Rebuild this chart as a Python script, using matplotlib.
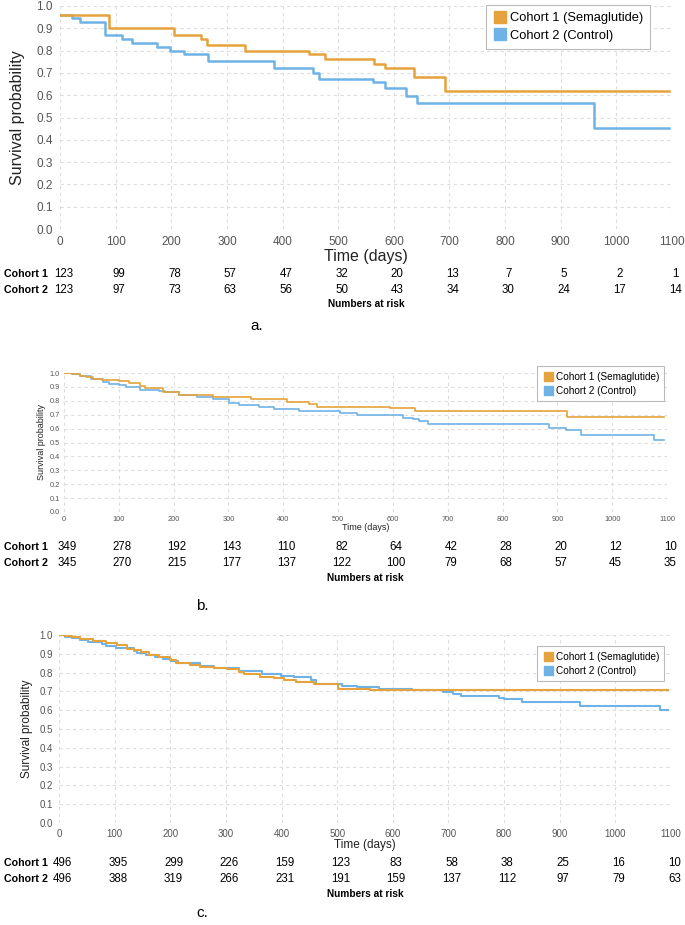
import matplotlib.pyplot as plt
from matplotlib.lines import Line2D
from matplotlib.transforms import blended_transform_factory

# --- data ---
days = [0, 100, 200, 300, 400, 500, 600, 700, 800, 900, 1000, 1100]
yticks = [0.0, 0.1, 0.2, 0.3, 0.4, 0.5, 0.6, 0.7, 0.8, 0.9, 1.0]

# panel a
a_t1 = [0, 88, 205, 254, 265, 333, 447, 477, 564, 585, 636, 692, 1095]
a_s1 = [0.96, 0.90, 0.872, 0.854, 0.827, 0.80, 0.786, 0.761, 0.738, 0.72, 0.68, 0.618, 0.618]
a_t2 = [0, 22, 36, 80, 111, 130, 174, 198, 222, 266, 384, 455, 466, 562, 584, 622, 642, 960, 1095]
a_s2 = [0.96, 0.944, 0.929, 0.872, 0.854, 0.836, 0.817, 0.80, 0.783, 0.753, 0.723, 0.70, 0.674,
        0.66, 0.633, 0.596, 0.565, 0.455, 0.455]
a_risk1 = [123, 99, 78, 57, 47, 32, 20, 13, 7, 5, 2, 1]
a_risk2 = [123, 97, 73, 63, 56, 50, 43, 34, 30, 24, 17, 14]

# panel b
b_t1 = [0, 15, 29, 40, 53, 70, 101, 119, 138, 147, 174, 180, 210, 271, 341, 362, 407, 447, 462,
        594, 640, 918, 1094]
b_s1 = [1.0, 0.99, 0.98, 0.97, 0.955, 0.95, 0.945, 0.93, 0.905, 0.895, 0.89, 0.86, 0.845, 0.825,
        0.815, 0.81, 0.79, 0.78, 0.757, 0.745, 0.727, 0.682, 0.682]
b_t2 = [0, 15, 30, 50, 71, 83, 101, 113, 138, 174, 185, 210, 243, 271, 301, 319, 356, 383, 428,
        504, 535, 619, 636, 648, 664, 885, 915, 944, 1077, 1094]
b_s2 = [1.0, 0.99, 0.98, 0.955, 0.935, 0.92, 0.915, 0.90, 0.88, 0.87, 0.86, 0.845, 0.825, 0.815,
        0.787, 0.77, 0.755, 0.74, 0.725, 0.715, 0.70, 0.678, 0.667, 0.653, 0.633, 0.607, 0.587,
        0.553, 0.52, 0.52]
b_risk1 = [349, 278, 192, 143, 110, 82, 64, 42, 28, 20, 12, 10]
b_risk2 = [345, 270, 215, 177, 137, 122, 100, 79, 68, 57, 45, 35]

# panel c
c_t1 = [0, 10, 23, 38, 62, 84, 105, 123, 135, 147, 162, 180, 199, 211, 235, 253, 278, 302, 323,
        332, 362, 387, 405, 426, 459, 502, 559, 1095]
c_s1 = [1.0, 0.995, 0.99, 0.98, 0.97, 0.958, 0.946, 0.928, 0.92, 0.91, 0.896, 0.884, 0.865, 0.853,
        0.84, 0.83, 0.823, 0.82, 0.805, 0.79, 0.777, 0.77, 0.76, 0.751, 0.738, 0.715, 0.705, 0.705]
c_t2 = [0, 10, 23, 38, 53, 78, 84, 102, 135, 141, 156, 172, 187, 202, 214, 253, 278, 308, 323,
        364, 387, 399, 423, 453, 462, 478, 508, 535, 576, 634, 690, 709, 722, 790, 800, 833, 936,
        1080, 1095]
c_s2 = [1.0, 0.99, 0.984, 0.975, 0.963, 0.953, 0.94, 0.932, 0.914, 0.905, 0.893, 0.882, 0.872,
        0.861, 0.85, 0.835, 0.826, 0.823, 0.81, 0.795, 0.79, 0.782, 0.774, 0.76, 0.742, 0.738, 0.73,
        0.724, 0.713, 0.705, 0.696, 0.684, 0.675, 0.667, 0.658, 0.644, 0.621, 0.60, 0.60]
c_risk1 = [496, 395, 299, 226, 159, 123, 83, 58, 38, 25, 16, 10]
c_risk2 = [496, 388, 319, 266, 231, 191, 159, 137, 112, 97, 79, 63]

labels = ['Cohort 1 (Semaglutide)', 'Cohort 2 (Control)']
orange = '#E6A23C'
blue = '#6FB3E6'
sans = ['Liberation Sans', 'DejaVu Sans']
narrow = ['Liberation Sans Narrow', 'Liberation Sans', 'DejaVu Sans']

W, H = 685, 925
fig = plt.figure(figsize=(W / 100, H / 100), dpi=100)


def panel(box, t1, s1, t2, s2, r1, r2, tick_fs, lab_fs, leg_fs, lw,
          ylab_x, time_y, row1_y, row2_y, nar_y, tag, tag_x, tag_y, leg_box, leg_sp):
    x0, x1, ytop, ybot = box
    ax = fig.add_axes([x0 / W, 1 - ybot / H, (x1 - x0) / W, (ybot - ytop) / H])
    ax.step(t2, s2, where='post', color=blue, lw=lw)
    ax.step(t1, s1, where='post', color=orange, lw=lw)
    ax.set_xlim(0, 1100)
    ax.set_ylim(0, 1.0)
    ax.set_xticks(days)
    ax.set_yticks(yticks)
    ax.set_yticklabels([f'{v:.1f}' for v in yticks])
    ax.tick_params(length=0, labelsize=tick_fs, labelcolor='#555555', pad=tick_fs * 0.6)
    for lbl in ax.get_xticklabels() + ax.get_yticklabels():
        lbl.set_family(sans)
    ax.grid(True, ls=(0, (3, 3)), color='#dddddd', lw=0.8)
    for sp in ax.spines.values():
        sp.set_visible(False)

    handles = [Line2D([], [], marker='s', ls='none', color=orange, markersize=leg_fs * 0.9),
               Line2D([], [], marker='s', ls='none', color=blue, markersize=leg_fs * 0.9)]
    lx0, ly0 = leg_box
    leg = ax.legend(handles, labels, loc='upper left',
                    bbox_to_anchor=(lx0 / W, 1 - ly0 / H), bbox_transform=fig.transFigure,
                    prop={'family': sans, 'size': leg_fs}, frameon=True, fancybox=False,
                    handletextpad=0.3, handlelength=1.0, borderpad=0.55, labelspacing=leg_sp,
                    borderaxespad=0, framealpha=1)
    leg.get_frame().set_edgecolor('#bbbbbb')
    leg.get_frame().set_linewidth(0.8)

    fig.text(ylab_x / W, 1 - (ytop + ybot) / 2 / H, 'Survival probability', rotation=90,
             ha='center', va='center', fontsize=lab_fs, color='#222222', family=sans)
    fig.text((x0 + x1) / 2 / W, 1 - time_y / H, 'Time (days)', ha='center', va='center',
             fontsize=lab_fs, color='#222222', family=sans)

    tr = blended_transform_factory(ax.transData, fig.transFigure)
    for name, row, yy in [('Cohort 1', r1, row1_y), ('Cohort 2', r2, row2_y)]:
        fig.text(4 / W, 1 - yy / H, name, ha='left', va='center', fontsize=7.7,
                 fontweight='bold', family=narrow)
        for d, n in zip(days, row):
            ax.text(d + 6, 1 - yy / H, str(n), transform=tr, ha='center', va='center',
                    fontsize=8.3, family=narrow, clip_on=False)
    fig.text((x0 + x1) / 2 / W, 1 - nar_y / H, 'Numbers at risk', ha='center', va='center',
             fontsize=7.3, fontweight='bold', family=narrow)
    fig.text(tag_x / W, 1 - tag_y / H, tag, ha='left', va='center', fontsize=11, family=narrow)
    return ax


panel((60, 672, 6, 229), a_t1, a_s1, a_t2, a_s2, a_risk1, a_risk2,
      tick_fs=8.5, lab_fs=11.5, leg_fs=9.3, lw=1.8,
      ylab_x=18, time_y=256, row1_y=274, row2_y=290, nar_y=304,
      tag='a.', tag_x=250, tag_y=326, leg_box=(486, 5), leg_sp=0.45)

panel((64, 667, 373, 512), b_t1, b_s1, b_t2, b_s2, b_risk1, b_risk2,
      tick_fs=5.3, lab_fs=6.5, leg_fs=7.2, lw=1.2,
      ylab_x=42, time_y=528, row1_y=547, row2_y=563, nar_y=578,
      tag='b.', tag_x=196, tag_y=606, leg_box=(537, 366), leg_sp=0.4)

panel((59, 671, 635, 823), c_t1, c_s1, c_t2, c_s2, c_risk1, c_risk2,
      tick_fs=7, lab_fs=8.5, leg_fs=7.2, lw=1.5,
      ylab_x=27, time_y=845, row1_y=863, row2_y=879, nar_y=894,
      tag='c.', tag_x=196, tag_y=913, leg_box=(537, 646), leg_sp=0.4)

plt.savefig('out.png', dpi=100)
plt.close()
